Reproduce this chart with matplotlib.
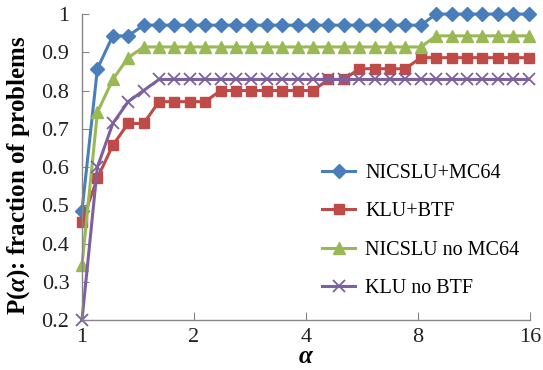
import matplotlib
matplotlib.use("Agg")
import matplotlib.pyplot as plt

alpha = [1.0, 1.1, 1.21, 1.331, 1.4641, 1.6105, 1.7716, 1.9487, 2.1436, 2.3579,
         2.5937, 2.8531, 3.1384, 3.4523, 3.7975, 4.1772, 4.595, 5.0545, 5.5599, 6.1159,
         6.7275, 7.4002, 8.1403, 8.9543, 9.8497, 10.8347, 11.9182, 13.11, 14.421, 15.8631]

nicslu_mc64 = [0.486, 0.857, 0.943, 0.943, 0.971, 0.971, 0.971, 0.971, 0.971, 0.971,
               0.971, 0.971, 0.971, 0.971, 0.971, 0.971, 0.971, 0.971, 0.971, 0.971,
               0.971, 0.971, 0.971, 1.0, 1.0, 1.0, 1.0, 1.0, 1.0, 1.0]
klu_btf = [0.457, 0.571, 0.657, 0.714, 0.714, 0.771, 0.771, 0.771, 0.771, 0.8,
           0.8, 0.8, 0.8, 0.8, 0.8, 0.8, 0.829, 0.829, 0.857, 0.857,
           0.857, 0.857, 0.886, 0.886, 0.886, 0.886, 0.886, 0.886, 0.886, 0.886]
nicslu_no = [0.343, 0.743, 0.829, 0.886, 0.914, 0.914, 0.914, 0.914, 0.914, 0.914,
             0.914, 0.914, 0.914, 0.914, 0.914, 0.914, 0.914, 0.914, 0.914, 0.914,
             0.914, 0.914, 0.914, 0.943, 0.943, 0.943, 0.943, 0.943, 0.943, 0.943]
klu_no = [0.2, 0.6, 0.714, 0.771, 0.8, 0.829, 0.829, 0.829, 0.829, 0.829,
          0.829, 0.829, 0.829, 0.829, 0.829, 0.829, 0.829, 0.829, 0.829, 0.829,
          0.829, 0.829, 0.829, 0.829, 0.829, 0.829, 0.829, 0.829, 0.829, 0.829]

series_labels = ["NICSLU+MC64", "KLU+BTF", "NICSLU no MC64", "KLU no BTF"]
xticks = [1, 2, 4, 8, 16]
xticklabels = ["1", "2", "4", "8", "16"]
yticks = [0.2, 0.3, 0.4, 0.5, 0.6, 0.7, 0.8, 0.9, 1.0]
yticklabels = ["0.2", "0.3", "0.4", "0.5", "0.6", "0.7", "0.8", "0.9", "1"]

plt.rcParams['font.family'] = ['Liberation Serif', 'DejaVu Serif']
plt.rcParams['mathtext.fontset'] = 'custom'
plt.rcParams['mathtext.rm'] = 'Liberation Serif'
plt.rcParams['mathtext.it'] = 'Liberation Serif:italic'
plt.rcParams['mathtext.bf'] = 'Liberation Serif:bold:italic'

fig = plt.figure(figsize=(5.43, 3.70), dpi=100)
ax = fig.add_axes([0.151, 0.135, 0.825, 0.827])

styles = [
    dict(color="#4A7EBB", marker="D", markersize=7.5),
    dict(color="#BE4B48", marker="s", markersize=7),
    dict(color="#98B954", marker="^", markersize=8.5),
    dict(color="#7D60A0", marker="x", markersize=9, markeredgewidth=1.3),
]
data = [nicslu_mc64, klu_btf, nicslu_no, klu_no]
for vals, lab, st in zip(data, series_labels, styles):
    ax.plot(alpha, vals, label=lab, linewidth=2.2, clip_on=False, **st)

ax.set_xscale('log', base=2)
ax.set_xlim(1, 16)
ax.set_ylim(0.2, 1.0)
ax.set_xticks(xticks)
ax.set_xticklabels(xticklabels)
ax.minorticks_off()
ax.set_yticks(yticks)
ax.set_yticklabels(yticklabels)
ax.tick_params(axis='x', direction='in', length=6, color='#868686', labelsize=16, pad=6)
ax.tick_params(axis='y', direction='in', length=5, color='#868686', labelsize=16, pad=9)
for s in ['top', 'right']:
    ax.spines[s].set_visible(False)
for s in ['left', 'bottom']:
    ax.spines[s].set_color('#868686')
    ax.spines[s].set_linewidth(1.0)
for lbl in ax.get_xticklabels() + ax.get_yticklabels():
    lbl.set_color('#222222')

ax.set_xlabel(r"$\mathbf{\alpha}$", fontsize=18, labelpad=-1)
ax.set_ylabel(r"P($\mathbf{\alpha}$): fraction of problems", fontsize=18,
              fontweight='bold')
ax.yaxis.set_label_coords(-0.111, 0.474)

leg = fig.legend(loc='upper left', bbox_to_anchor=(322 / 543, 1 - 164 / 370),
                 frameon=False, borderpad=0, borderaxespad=0,
                 fontsize=14.5, handlelength=1.65, labelspacing=0.95,
                 handletextpad=0.5)
fig.savefig("out.png", dpi=100)
